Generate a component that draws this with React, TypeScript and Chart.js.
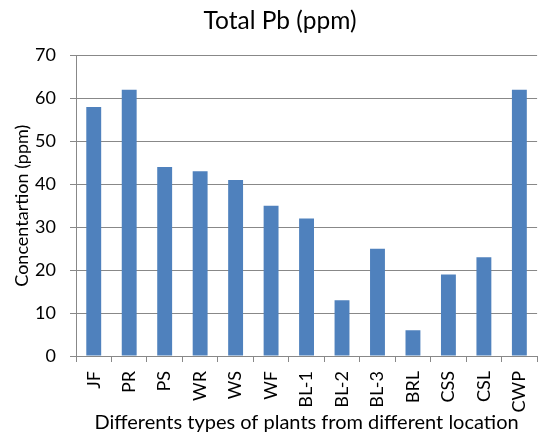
import React, { useEffect, useRef } from "react";
import { Chart, registerables } from "chart.js";

Chart.register(...registerables);

const categories = ["JF", "PR", "PS", "WR", "WS", "WF", "BL-1", "BL-2", "BL-3", "BRL", "CSS", "CSL", "CWP"];
const pbValues = [58, 62, 44, 43, 41, 35, 32, 13, 25, 6, 19, 23, 62];
const yTicks = [0, 10, 20, 30, 40, 50, 60, 70];

const FONT = "Lato, 'Open Sans', sans-serif";
const GRID = "#888888";

export default function App() {
  const canvasRef = useRef<HTMLCanvasElement | null>(null);

  useEffect(() => {
    if (!canvasRef.current) return;
    const chart = new Chart(canvasRef.current, {
      type: "bar",
      data: {
        labels: categories,
        datasets: [
          {
            label: "Total Pb (ppm)",
            data: pbValues,
            backgroundColor: "#4F81BD",
            borderColor: "#4F81BD",
            borderWidth: 0,
            barPercentage: 0.42,
            categoryPercentage: 1,
          },
        ],
      },
      options: {
        responsive: false,
        animation: false,
        layout: { padding: { left: 11, right: 1, top: 4, bottom: 3 } },
        plugins: {
          legend: { display: false },
          tooltip: { enabled: false },
          title: {
            display: true,
            text: "Total Pb (ppm)",
            color: "#000",
            font: { family: FONT, size: 24.5, weight: "normal" },
            padding: { top: 2, bottom: 20 },
          },
        },
        scales: {
          x: {
            afterFit: (axis: any) => {
              axis.height = 77;
            },
            grid: {
              display: true,
              drawOnChartArea: false,
              drawTicks: true,
              tickLength: 6,
              color: GRID,
              offset: true,
            },
            border: { color: GRID, width: 1 },
            ticks: {
              color: "#000",
              font: { family: FONT, size: 18 },
              minRotation: 90,
              maxRotation: 90,
              autoSkip: false,
              padding: 9,
            },
            title: {
              display: true,
              text: "Differents types of plants from different location",
              color: "#000",
              font: { family: FONT, size: 20, lineHeight: 1.0 },
              padding: { top: 0, bottom: 0 },
            },
          },
          y: {
            min: 0,
            max: 70,
            afterBuildTicks: (axis: any) => {
              axis.ticks = yTicks.map((v) => ({ value: v }));
            },
            afterFit: (axis: any) => {
              axis.width = 65;
            },
            grid: {
              color: GRID,
              lineWidth: 1,
              tickLength: 6,
              drawTicks: true,
            },
            border: { color: GRID, width: 1 },
            ticks: {
              color: "#000",
              font: { family: FONT, size: 18 },
              padding: 14,
            },
            title: {
              display: true,
              text: "Concentartion (ppm)",
              color: "#000",
              font: { family: FONT, size: 18 },
              padding: { top: 0, bottom: 0 },
            },
          },
        },
      },
    });
    return () => chart.destroy();
  }, []);

  return (
    <div style={{ position: "fixed", left: 0, top: 0, width: 550, height: 436, background: "#fff" }}>
      <canvas ref={canvasRef} width={550} height={436} />
    </div>
  );
}
